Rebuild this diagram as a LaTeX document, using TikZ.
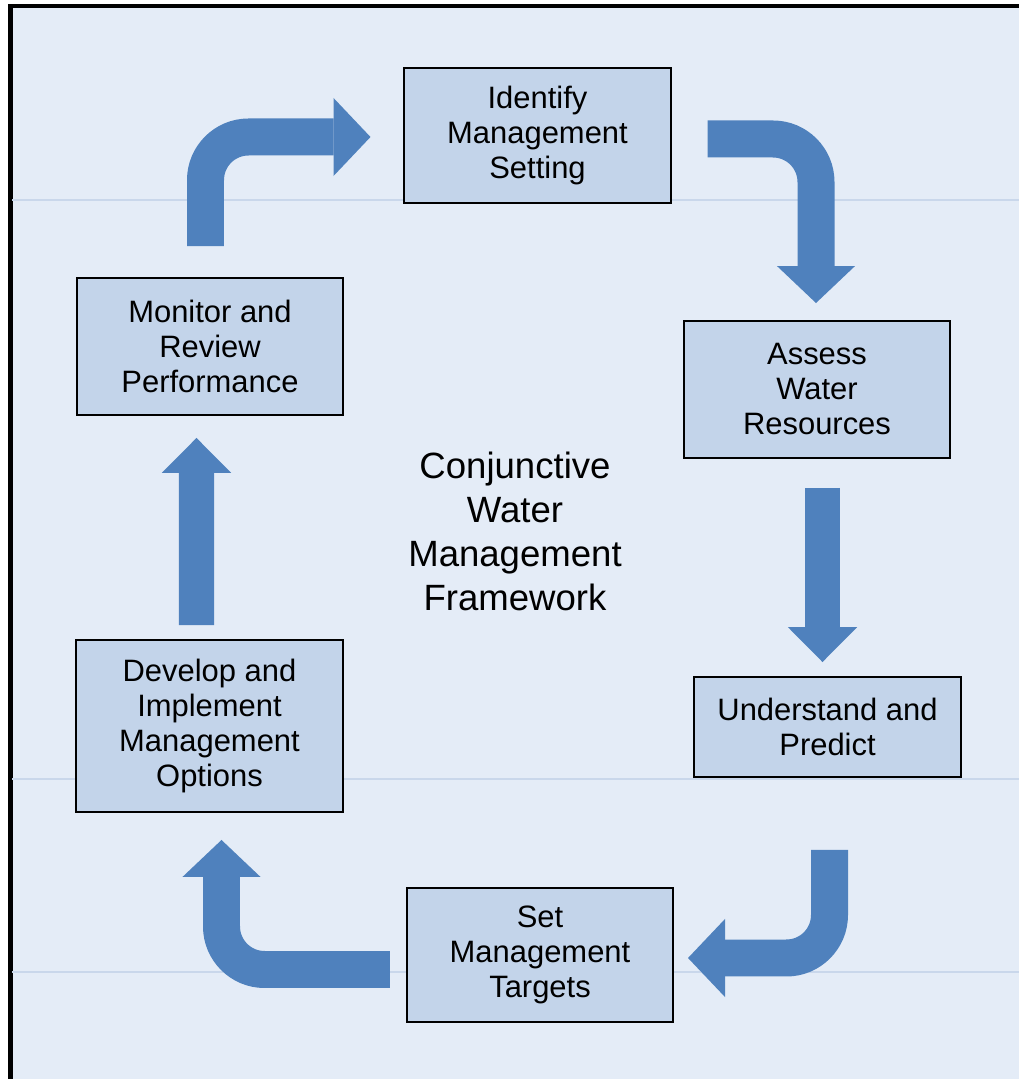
\documentclass[tikz,border=0pt]{standalone}
\usepackage{fontspec}
\setmainfont{Liberation Sans}
\usetikzlibrary{arrows.meta}
\usetikzlibrary{calc}

\definecolor{bgblue}{HTML}{E4ECF7}
\definecolor{gridblue}{HTML}{C9D7EB}
\definecolor{boxblue}{HTML}{C3D4EA}
\definecolor{arrowblue}{HTML}{4F81BD}

\begin{document}
\begin{tikzpicture}[x=0.025cm, y=0.025cm,
    stage/.style={draw=black, line width=1.4pt, fill=boxblue, minimum width=189.2pt,
        inner sep=2pt, align=center, font=\fontsize{22}{24.9}\selectfont},
    bent/.style={draw=arrowblue, line width=26.3pt, rounded corners=30.6pt,
        -{Triangle[width=55.5pt, length=26.3pt, line width=0pt]}},
    straight/.style={draw=arrowblue, line width=24.9pt,
        -{Triangle[width=49.4pt, length=24.9pt, line width=0pt]}}]

        \useasboundingbox (0,0) rectangle (1019,1079);
        \clip (0,0) rectangle (1019,1079);

        % Draw the background and its frame
        \draw[line width=3.2pt, fill=bgblue] (10.3,1073) rectangle (1060,-40);
        \draw[gridblue, line width=0.8pt] (12,879) -- (1019,879);
        \draw[gridblue, line width=0.8pt] (12,300) -- (1019,300);
        \draw[gridblue, line width=0.8pt] (12,107) -- (1019,107);

        % Draw the six stages of the cycle
        \node[stage, minimum height=96pt] (ident) at (537.5,943.5) {Identify\\Management\\Setting};
        \node[stage, minimum height=97.4pt] (assess) at (817,689.5) {Assess\\Water\\Resources};
        \node[stage, minimum height=71.1pt] (und) at (827.5,352) {Understand and\\Predict};
        \node[stage, minimum height=95.3pt] (set) at (540,124) {Set\\Management\\Targets};
        \node[stage, minimum height=122.3pt] (dev) at (209.5,353) {Develop and\\Implement\\Management\\Options};
        \node[stage, minimum height=97.4pt] (mon) at (210,732.5) {Monitor and\\Review\\Performance};

        % Draw the title in the middle
        \node[font=\fontsize{26}{31.3}\selectfont, align=center] (title) at (515,548)
            {Conjunctive\\Water\\Management\\Framework};

        % Draw the arrows between the stages
        \draw[bent] ($(mon.north)+(-4.5,31)$) |- ($(ident.west)+(-33,-1.5)$);
        \draw[bent] ($(ident.east)+(36,-3.5)$) -| ($(assess.north)+(-1,17)$);
        \draw[straight] ($(assess.south)+(5.5,-29)$) -- ($(und.north)+(-5,14)$);
        \draw[bent] ($(und.south)+(2,-72)$) |- ($(set.east)+(14,-3)$);
        \draw[bent] ($(set.west)+(-16,-14.5)$) -| ($(dev.south)+(12,-27)$);
        \draw[straight] ($(dev.north)+(-13,14)$) -- ($(mon.south)+(-13.5,-22)$);
    \end{tikzpicture}
\end{document}
